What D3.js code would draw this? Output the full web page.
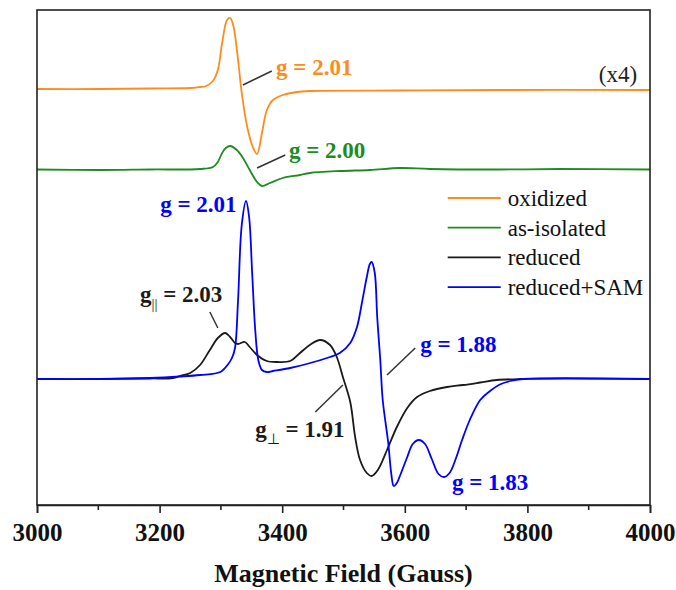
<!DOCTYPE html>
<html>
<head>
<meta charset="utf-8">
<script src="https://cdn.jsdelivr.net/npm/d3@7"></script>
<style>
  html, body { margin: 0; padding: 0; background: #fff; }
</style>
</head>
<body>
<svg id="chart" width="676" height="590"></svg>
<script>
// EPR spectra: magnetic field (Gauss) vs. derivative signal (arbitrary units)
const seriesNames = ["oxidized", "as-isolated", "reduced", "reduced+SAM"];
const seriesColors = ["#ff8c1a", "#1e8c1e", "#1a1a1a", "#0000ff"];
const seriesOffsets = [290, 210, 0, 0];   // vertical stacking offsets (a.u.)

const xTicks = [3000, 3200, 3400, 3600, 3800, 4000];
const xMinorTicks = [3100, 3300, 3500, 3700, 3900];

// oxidized (x4): [field, signal]
const oxidized = [
  [3000, 0], [3103, 0], [3184, 0.5], [3250, 1], [3266, 2], [3274, 2.5], [3287, 8],
  [3295, 19], [3302, 46], [3310, 69], [3315, 71], [3320, 64], [3328, 29],
  [3334, -4], [3343, -38], [3352, -58], [3359, -65], [3367, -44], [3375, -21],
  [3385, -11], [3401, -6], [3424, -3], [3445, -2], [3592, -1.5], [3755, -1], [4000, -1]
];

// as-isolated (x4)
const asIsolated = [
  [3000, -0.5], [3103, -1], [3184, -0.5], [3266, 0], [3287, 2], [3295, 7],
  [3302, 16], [3308, 21], [3315, 23], [3326, 19], [3336, 11], [3347, -1],
  [3359, -13], [3367, -17], [3380, -14], [3401, -9], [3429, -6], [3445, -4],
  [3494, -2], [3543, -1], [3592, 1], [3641, 0], [3755, -0.5], [3853, 0], [4000, -0.5]
];

// reduced
const reduced = [
  [3000, 0], [3103, 0], [3184, 0.5], [3222, 1], [3233, 3], [3250, 6], [3266, 14],
  [3282, 29], [3295, 41], [3307, 46], [3315, 42], [3323, 36], [3328, 35],
  [3339, 37], [3347, 32], [3359, 24], [3375, 18], [3392, 17], [3413, 18],
  [3429, 26], [3445, 34], [3462, 39], [3478, 34], [3489, 22], [3499, 2],
  [3511, -23], [3519, -58], [3527, -81], [3538, -94], [3546, -97], [3556, -91],
  [3571, -71], [3587, -48], [3604, -29], [3620, -18], [3641, -12], [3669, -8],
  [3695, -6], [3723, -3.5], [3750, -1], [3788, 0], [4000, 0]
];

// reduced + SAM
const reducedSAM = [
  [3000, 0], [3103, 0], [3184, 1], [3233, 2.5], [3266, 4], [3299, 7], [3312, 15],
  [3318, 21], [3323, 31], [3328, 79], [3334, 154], [3341, 178], [3346, 162],
  [3351, 106], [3356, 49], [3361, 19], [3367, 9], [3375, 7], [3385, 8],
  [3413, 11], [3440, 15], [3478, 22], [3494, 26], [3511, 36], [3522, 52],
  [3530, 76], [3538, 102], [3543, 115], [3546, 117], [3551, 106], [3555, 62],
  [3560, 19], [3564, -21], [3573, -64], [3578, -95], [3582, -107], [3587, -104],
  [3592, -97], [3604, -78], [3613, -65], [3623, -61], [3633, -65], [3644, -80],
  [3655, -95], [3664, -98], [3673, -94], [3683, -80], [3694, -60], [3706, -41],
  [3723, -21], [3739, -12], [3755, -5.5], [3772, -2], [3793, 0], [4000, 0]
];

const allSeries = [oxidized, asIsolated, reduced, reducedSAM];

const svg = d3.select("#chart");
const margin = { left: 37, right: 26, top: 10, bottom: 85 };
const W = 676, H = 590;
const x = d3.scaleLinear().domain([3000, 4000]).range([margin.left, W - margin.right]);
const y = d3.scaleLinear().domain([-126, 369]).range([H - margin.bottom, margin.top]);

const font = "'Liberation Serif', 'Times New Roman', Times, serif";

// spectra
const line = d3.line()
  .x(d => x(d[0]))
  .y(d => y(d[1]))
  .curve(d3.curveCatmullRom.alpha(0.5));

allSeries.forEach((s, i) => {
  svg.append("path")
    .datum(s.map(d => [d[0], d[1] + seriesOffsets[i]]))
    .attr("fill", "none")
    .attr("stroke", seriesColors[i])
    .attr("stroke-width", 1.8)
    .attr("stroke-linejoin", "round")
    .attr("d", line);
});

// frame
svg.append("rect")
  .attr("x", x(3000)).attr("y", y(369))
  .attr("width", x(4000) - x(3000)).attr("height", y(-126) - y(369))
  .attr("fill", "none").attr("stroke", "#222").attr("stroke-width", 1.6);

// bottom axis
const axisG = svg.append("g").attr("transform", `translate(0,${y(-126)})`);
axisG.call(d3.axisBottom(x).tickValues(xTicks).tickSize(8).tickPadding(10).tickFormat(d3.format("d")))
  .call(g => g.attr("font-family", null).attr("font-size", null))
  .call(g => g.select(".domain").attr("stroke", "#222").attr("stroke-width", 1.6))
  .call(g => g.selectAll(".tick line").attr("stroke", "#222").attr("stroke-width", 1.6))
  .call(g => g.selectAll(".tick text")
      .attr("fill", "#111").style("font-family", font)
      .style("font-size", "25px").style("font-weight", "bold"));
axisG.selectAll(".minor").data(xMinorTicks).enter().append("line")
  .attr("x1", d => x(d)).attr("x2", d => x(d))
  .attr("y1", 0).attr("y2", 5)
  .attr("stroke", "#222").attr("stroke-width", 1.6);

svg.append("text")
  .attr("x", (x(3000) + x(4000)) / 2).attr("y", 582)
  .attr("text-anchor", "middle")
  .style("font-family", font).style("font-size", "26px").style("font-weight", "bold")
  .attr("fill", "#111")
  .text("Magnetic Field (Gauss)");

// scale note
svg.append("text")
  .attr("x", x(3979)).attr("y", y(297))
  .attr("text-anchor", "end")
  .style("font-family", font).style("font-size", "23px").attr("fill", "#222")
  .text("(x4)");

// g-value annotations: label anchor, optional leader line
const notes = [
  { t: "g = 2.01", c: seriesColors[0], at: [3390, 304], lead: [[3336, 294], [3383, 308]] },
  { t: "g = 2.00", c: seriesColors[1], at: [3411, 221], lead: [[3359, 211], [3405, 224]] },
  { t: "g = 2.01", c: seriesColors[3], at: [3201, 167] },
  { t: "g", sub: "||", rest: " = 2.03", c: "#1a1a1a", at: [3168, 77], lead: [[3282, 67], [3295, 51]] },
  { t: "g", sub: "\u22a5", rest: " = 1.91", c: "#1a1a1a", at: [3356, -58], lead: [[3454, -33], [3499, -6]] },
  { t: "g = 1.88", c: seriesColors[3], at: [3625, 27], lead: [[3571, 4], [3617, 31]] },
  { t: "g = 1.83", c: seriesColors[3], at: [3677, -111] }
];

notes.forEach(n => {
  if (n.lead) {
    svg.append("line")
      .attr("x1", x(n.lead[0][0])).attr("y1", y(n.lead[0][1]))
      .attr("x2", x(n.lead[1][0])).attr("y2", y(n.lead[1][1]))
      .attr("stroke", "#333").attr("stroke-width", 1.5);
  }
  const t = svg.append("text")
    .attr("x", x(n.at[0])).attr("y", y(n.at[1]))
    .style("font-family", font).style("font-size", "23px").style("font-weight", "bold")
    .attr("fill", n.c);
  t.append("tspan").text(n.t);
  if (n.sub) {
    t.append("tspan").attr("dy", 7).style("font-size", "15px").style("font-weight", "normal").text(n.sub);
    t.append("tspan").attr("dy", -7).text(n.rest);
  }
});

// legend
const legend = svg.append("g").attr("transform", `translate(${x(3670)},${y(181)})`);
seriesNames.forEach((name, i) => {
  const row = legend.append("g").attr("transform", `translate(0,${i * 29.7})`);
  row.append("line").attr("x1", 0).attr("x2", 53).attr("y1", 0).attr("y2", 0)
    .attr("stroke", seriesColors[i]).attr("stroke-width", 1.8);
  row.append("text").attr("x", 60).attr("y", 8)
    .style("font-family", font).style("font-size", "23px").attr("fill", "#111")
    .text(name);
});
</script>
</body>
</html>
